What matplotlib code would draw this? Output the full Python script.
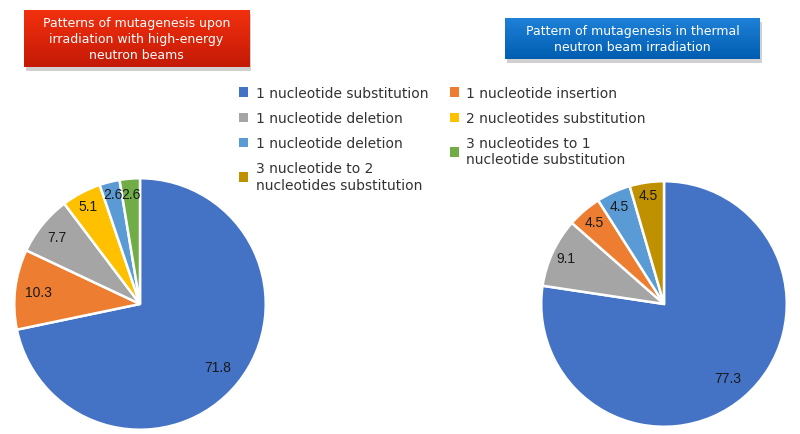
import numpy as np
import matplotlib
matplotlib.use("Agg")
import matplotlib.pyplot as plt
from matplotlib.patches import Patch, Rectangle
from matplotlib.colors import LinearSegmentedColormap

plt.rcParams['font.family'] = ['DejaVu Sans']

# data
left_labels = ["1 nucleotide substitution", "1 nucleotide insertion", "1 nucleotide deletion",
               "2 nucleotides substitution", "1 nucleotide deletion", "3 nucleotides to 1 nucleotide substitution"]
left_values = [71.8, 10.3, 7.7, 5.1, 2.6, 2.6]
left_colors = ["#4472C4", "#ED7D31", "#A5A5A5", "#FFC000", "#5B9BD5", "#70AD47"]
left_label_r = [0.80, 0.81, 0.85, 0.88, 0.90, 0.88]

right_values = [77.3, 9.1, 4.5, 4.5, 4.5]
right_colors = ["#4472C4", "#A5A5A5", "#ED7D31", "#5B9BD5", "#BF9000"]
right_label_r = [0.79, 0.88, 0.88, 0.88, 0.90]

legend_labels = ["1 nucleotide substitution", "1 nucleotide insertion",
                 "1 nucleotide deletion", "2 nucleotides substitution",
                 "1 nucleotide deletion", "3 nucleotides to 1\nnucleotide substitution",
                 "3 nucleotide to 2\nnucleotides substitution"]
legend_colors = ["#4472C4", "#ED7D31", "#A5A5A5", "#FFC000", "#5B9BD5", "#70AD47", "#BF9000"]

left_title = "Patterns of mutagenesis upon\nirradiation with high-energy\nneutron beams"
right_title = "Pattern of mutagenesis in thermal\nneutron beam irradiation"

W, H = 800, 435
fig = plt.figure(figsize=(W / 100, H / 100), dpi=100)


def px_box(x0, y0, x1, y1):
    # pixel box (top-left origin) -> figure fraction rect
    return [x0 / W, 1 - y1 / H, (x1 - x0) / W, (y1 - y0) / H]


def draw_pie(rect, values, colors, label_r):
    ax = fig.add_axes(rect)
    wedges, _ = ax.pie(values, colors=colors, startangle=90, counterclock=False,
                       wedgeprops=dict(edgecolor='white', linewidth=1.8))
    for w, v, r in zip(wedges, values, label_r):
        ang = np.deg2rad((w.theta1 + w.theta2) / 2)
        ax.text(r * np.cos(ang), r * np.sin(ang), f"{v}", ha='center', va='center',
                fontsize=10, color='#1a1a1a', family=['Liberation Sans', 'DejaVu Sans'])
    ax.set_xlim(-1.01, 1.01)
    ax.set_ylim(-1.01, 1.01)
    ax.set_aspect('equal')
    return ax


draw_pie(px_box(13, 178, 267, 432), left_values, left_colors, left_label_r)
draw_pie(px_box(540, 181, 788, 429), right_values, right_colors, right_label_r)


def title_box(box, text, c_top, c_bot):
    x0, y0, x1, y1 = box
    # soft shadow behind the box
    shadow = Rectangle(((x0 + 2) / W, 1 - (y1 + 4) / H), (x1 - x0) / W, (y1 - y0) / H,
                       transform=fig.transFigure, facecolor='#d0d0d0', edgecolor='none', zorder=-5)
    fig.patches.append(shadow)
    ax = fig.add_axes(px_box(x0, y0, x1, y1))
    ax.set_zorder(2)
    cmap = LinearSegmentedColormap.from_list("g", [c_bot, c_top])
    grad = np.linspace(0, 1, 64).reshape(-1, 1)
    ax.imshow(grad, aspect='auto', cmap=cmap, origin='lower', extent=[0, 1, 0, 1])
    ax.set_axis_off()
    ax.text(0.5, 0.5, text, ha='center', va='center', color='white', fontsize=9,
            linespacing=1.3, transform=ax.transAxes)


title_box((24, 11, 249, 68), left_title, "#F2300F", "#C41A06")
title_box((505, 19, 760, 60), right_title, "#1E80D8", "#005EB0")

# legend (column-major order for ncol=2)
order = [0, 2, 4, 6, 1, 3, 5]
handles = [Patch(facecolor=legend_colors[i], edgecolor='none') for i in order]
labels = [legend_labels[i] for i in order]
fig.legend(handles, labels, loc='upper left', bbox_to_anchor=(239 / W, 1 - 87 / H),
           ncol=2, frameon=False, fontsize=10, handlelength=0.65, handleheight=0.65,
           handletextpad=0.55, columnspacing=1.55, labelspacing=0.8, borderpad=0,
           borderaxespad=0, labelcolor='#333333')

fig.savefig("out.png", dpi=100)
